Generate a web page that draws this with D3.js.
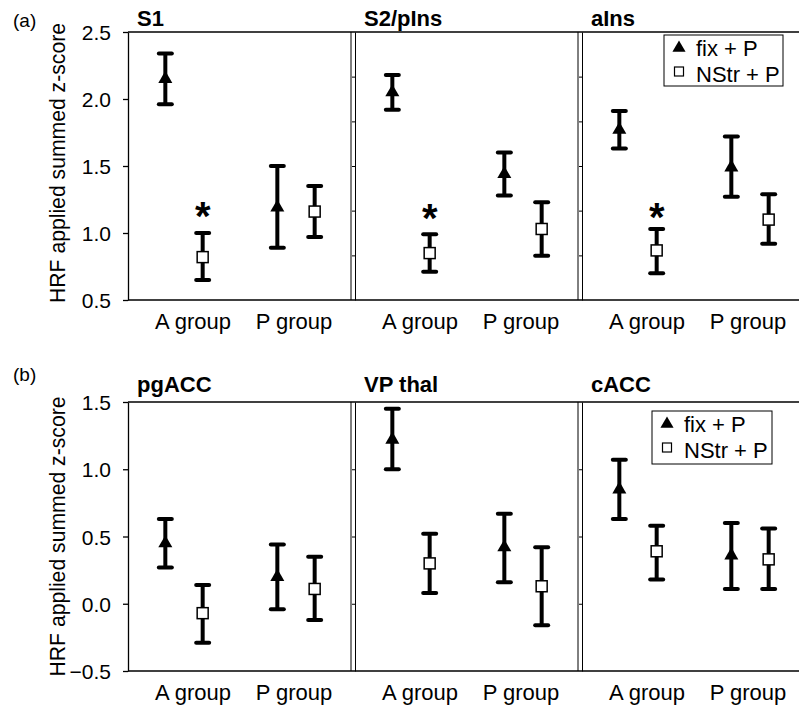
<!DOCTYPE html>
<html>
<head>
<meta charset="utf-8">
<script src="https://cdn.jsdelivr.net/npm/d3@7"></script>
<style>
  body { margin: 0; background: #fff; }
  text { font-family: "Liberation Sans", Arial, sans-serif; fill: #000; }
  .title { font-weight: bold; font-size: 22px; }
  .tick text { font-size: 21px; }
</style>
</head>
<body>
<div id="wrapper"></div>
<script>
// ---- data ----
const topRegions = ["S1", "S2/pIns", "aIns"];
const bottomRegions = ["pgACC", "VP thal", "cACC"];
const groups = ["A group", "P group"];
const seriesNames = ["fix + P", "NStr + P"];

// [region][group] = [mean, lower, upper]
const topFix = [
  [[2.15, 1.96, 2.34], [1.19, 0.89, 1.50]],
  [[2.05, 1.92, 2.18], [1.44, 1.28, 1.60]],
  [[1.77, 1.63, 1.91], [1.49, 1.27, 1.72]]
];
const topNStr = [
  [[0.82, 0.65, 1.00], [1.16, 0.97, 1.35]],
  [[0.85, 0.71, 0.99], [1.03, 0.83, 1.23]],
  [[0.87, 0.70, 1.03], [1.10, 0.92, 1.29]]
];
const bottomFix = [
  [[0.45, 0.27, 0.63], [0.20, -0.04, 0.44]],
  [[1.22, 1.00, 1.45], [0.42, 0.16, 0.67]],
  [[0.85, 0.63, 1.07], [0.36, 0.11, 0.60]]
];
const bottomNStr = [
  [[-0.07, -0.29, 0.14], [0.11, -0.12, 0.35]],
  [[0.30, 0.08, 0.52], [0.13, -0.16, 0.42]],
  [[0.39, 0.18, 0.58], [0.33, 0.11, 0.56]]
];
// asterisk heights above NStr + P, A group (top row only)
const topStars = [1.19, 1.17, 1.18];

const topTicks = [0.5, 1.0, 1.5, 2.0, 2.5];
const bottomTicks = [-0.5, 0.0, 0.5, 1.0, 1.5];
const topInnerTicks = [0.833, 1.167, 1.5, 1.833, 2.167];
const bottomInnerTicks = [0.0, 0.5, 1.0];

// ---- layout ----
const W = 799, H = 705;
const left = 128, panelStep = 227;

const svg = d3.select("#wrapper").append("svg")
  .attr("width", W).attr("height", H);

const xGroup = d3.scaleBand().domain(groups).range([0, 224]);
const xSeries = d3.scalePoint().domain(seriesNames).range([0, xGroup.bandwidth()]).padding(1);
const labelShift = [9, -2];

const rows = [
  { tag: "(a)", tagY: 27, regions: topRegions, fix: topFix, nstr: topNStr, stars: topStars,
    domain: [0.5, 2.5], range: [300, 32], ticks: topTicks, inner: topInnerTicks,
    titleDy: -6, yTitleShift: -3, legend: { x: 664, y: 35, w: 119, h: 51 } },
  { tag: "(b)", tagY: 381, regions: bottomRegions, fix: bottomFix, nstr: bottomNStr, stars: [],
    domain: [-0.5, 1.5], range: [671, 402], ticks: bottomTicks, inner: bottomInnerTicks,
    titleDy: -10, yTitleShift: 0, legend: { x: 652, y: 411, w: 120, h: 53 } }
];

const tri = d3.symbol(d3.symbolTriangle, 85);

rows.forEach(row => {
  const y = d3.scaleLinear().domain(row.domain).range(row.range);
  const g = svg.append("g");
  const yTop = row.range[1], yBot = row.range[0];

  // row tag
  g.append("text").attr("x", 13).attr("y", row.tagY)
    .style("font-size", "19px").text(row.tag);

  // y title
  g.append("text")
    .attr("transform", `translate(65,${(yTop + yBot) / 2 + row.yTitleShift}) rotate(-90)`)
    .attr("text-anchor", "middle")
    .attr("textLength", 280)
    .attr("lengthAdjust", "spacingAndGlyphs")
    .style("font-size", "22px")
    .text("HRF applied summed z-score");

  // frame top / bottom
  g.append("line").attr("x1", left).attr("x2", W).attr("y1", yTop).attr("y2", yTop)
    .attr("stroke", "#000").attr("stroke-width", 1.3);
  g.append("line").attr("x1", left).attr("x2", W).attr("y1", yBot).attr("y2", yBot)
    .attr("stroke", "#000").attr("stroke-width", 1.3);

  // main y axis
  const ax = g.append("g").attr("transform", `translate(${left},0)`)
    .call(d3.axisLeft(y).tickValues(row.ticks).tickFormat(d3.format(".1f"))
      .tickSize(5).tickSizeOuter(0).tickPadding(12));
  ax.selectAll("path, line").attr("stroke", "#000").attr("stroke-width", 1.3);
  ax.selectAll("text").attr("dy", "0.36em");

  row.regions.forEach((name, i) => {
    const px = left + i * panelStep;

    if (i > 0) {
      // double separator line with small inner ticks
      g.append("line").attr("x1", px - 4).attr("x2", px - 4).attr("y1", yTop).attr("y2", yBot)
        .attr("stroke", "#000").attr("stroke-width", 1);
      const sx = g.append("g").attr("transform", `translate(${px},0)`)
        .call(d3.axisLeft(y).tickValues(row.inner).tickFormat("").tickSize(3).tickSizeOuter(0));
      sx.selectAll("path, line").attr("stroke", "#000").attr("stroke-width", 1);
    }

    // panel title
    g.append("text").attr("class", "title")
      .attr("x", px + 9).attr("y", yTop + row.titleDy).text(name);

    // group labels
    groups.forEach((grp, j) => {
      g.append("text")
        .attr("x", px + xGroup(grp) + xGroup.bandwidth() / 2 + labelShift[j])
        .attr("y", yBot + 28.5)
        .attr("text-anchor", "middle")
        .style("font-size", "22px")
        .text(grp);
    });

    const pts = [];
    groups.forEach((grp, j) => {
      pts.push({ s: 0, grp, v: row.fix[i][j] });
      pts.push({ s: 1, grp, v: row.nstr[i][j] });
    });

    const pg = g.selectAll(null).data(pts).enter().append("g")
      .attr("transform", d => `translate(${px + xGroup(d.grp) + xSeries(seriesNames[d.s])},0)`);

    // error bars
    pg.append("line").attr("x1", 0).attr("x2", 0)
      .attr("y1", d => y(d.v[1])).attr("y2", d => y(d.v[2]))
      .attr("stroke", "#000").attr("stroke-width", 4);
    [1, 2].forEach(k => {
      pg.append("line").attr("x1", -6.5).attr("x2", 6.5)
        .attr("y1", d => y(d.v[k])).attr("y2", d => y(d.v[k]))
        .attr("stroke", "#000").attr("stroke-width", 4).attr("stroke-linecap", "round");
    });

    // markers
    pg.filter(d => d.s === 0).append("path")
      .attr("d", tri)
      .attr("transform", d => `translate(0,${y(d.v[0])})`)
      .attr("fill", "#000");
    pg.filter(d => d.s === 1).append("rect")
      .attr("x", -5.5).attr("y", d => y(d.v[0]) - 5.5)
      .attr("width", 11).attr("height", 11)
      .attr("fill", "#fff").attr("stroke", "#000").attr("stroke-width", 1.5);

    // significance asterisk
    if (row.stars.length) {
      g.append("text")
        .attr("x", px + xGroup(groups[0]) + xSeries(seriesNames[1]))
        .attr("y", y(row.stars[i]) + 22)
        .attr("text-anchor", "middle")
        .style("font-size", "40px").style("font-weight", "bold")
        .text("*");
    }
  });

  // legend
  const L = row.legend;
  const lg = g.append("g").attr("transform", `translate(${L.x},${L.y})`);
  lg.append("rect").attr("width", L.w).attr("height", L.h)
    .attr("fill", "#fff").attr("stroke", "#000").attr("stroke-width", 1);
  lg.append("path").attr("d", d3.symbol(d3.symbolTriangle, 75))
    .attr("transform", "translate(15,13)").attr("fill", "#000");
  lg.append("rect").attr("x", 10.5).attr("y", 32).attr("width", 9).attr("height", 9)
    .attr("fill", "#fff").attr("stroke", "#000").attr("stroke-width", 1.2);
  seriesNames.forEach((s, k) => {
    lg.append("text").attr("x", 32).attr("y", 21 + k * 25.5)
      .style("font-size", "22px").text(s);
  });
});
</script>
</body>
</html>
